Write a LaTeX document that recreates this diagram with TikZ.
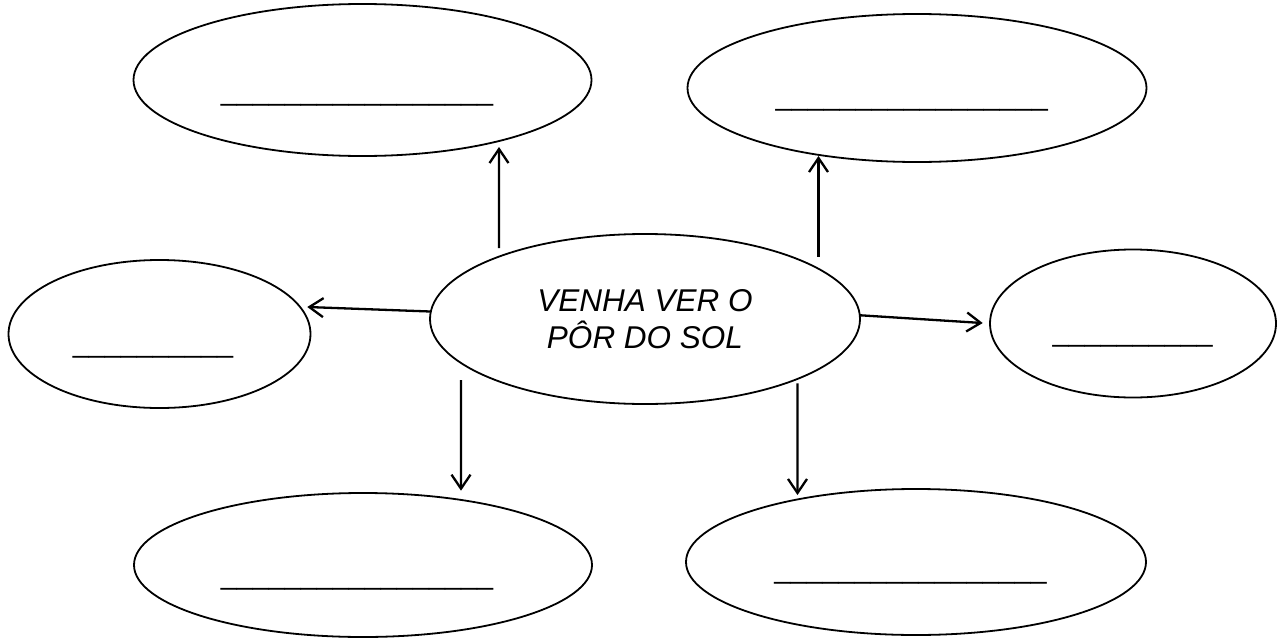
\documentclass[tikz,border=0pt]{standalone}
\usepackage{fontspec}
\setmainfont{Liberation Sans}
\usepackage{tikz}
\usetikzlibrary{arrows.meta,shapes}
\newcommand{\blank}[1]{\foreach \i in {1,...,#1}{\_}}

\begin{document}
\begin{tikzpicture}[>={Straight Barb[length=14bp,width=19bp]},
  bubble/.style={ellipse, draw, line width=1.8bp, inner sep=0pt, outer sep=0pt},
  blank/.style={anchor=base, inner sep=0pt, font=\fontsize{28.8bp}{30bp}\selectfont},
  link/.style={line width=2.3bp, ->}]
  \useasboundingbox (0bp, 0bp) rectangle (1284bp, -638bp);
  % States
  \node (sunset) at (645bp, -319bp) [bubble, minimum width=430bp, minimum height=170bp, align=center, font=\itshape\fontsize{31.5bp}{36.5bp}\selectfont] {VENHA VER O\\PÔR DO SOL};

  \node (upleft) at (362.5bp, -80bp) [bubble, minimum width=458bp, minimum height=152bp] {};
  \node (upright) at (917bp, -88bp) [bubble, minimum width=459bp, minimum height=148bp] {};
  \node (left) at (159.5bp, -334bp) [bubble, minimum width=302bp, minimum height=148bp] {};
  \node (right) at (1133bp, -323.5bp) [bubble, minimum width=286bp, minimum height=148bp] {};
  \node (downleft) at (363bp, -565bp) [bubble, minimum width=458bp, minimum height=144bp] {};
  \node (downright) at (916bp, -562bp) [bubble, minimum width=460bp, minimum height=146bp] {};

  % Blanks
  \node (upleftblank) at (357bp, -100bp) [blank] {\blank{17}};
  \node (uprightblank) at (911.7bp, -105bp) [blank] {\blank{17}};
  \node (leftblank) at (153bp, -352bp) [blank] {\blank{10}};
  \node (rightblank) at (1132.7bp, -341.7bp) [blank] {\blank{10}};
  \node (downleftblank) at (357bp, -584bp) [blank] {\blank{17}};
  \node (downrightblank) at (910.5bp, -578bp) [blank] {\blank{17}};

  % Edges
  \draw[link] ([xshift=-146bp, yshift=71bp]sunset.center) to ([xshift=136.5bp, yshift=-67bp]upleft.center);
  \draw[link] ([xshift=173.5bp, yshift=62.3bp]sunset.center) to ([xshift=-98.5bp, yshift=-68bp]upright.center);
  \draw[link, shorten >=7.4bp] (sunset.178.7) to (left.11.3);
  \draw[link, shorten >=7.3bp] (sunset.1.3) to (right.180);
  \draw[link] ([xshift=-184bp, yshift=-61bp]sunset.center) to ([xshift=98bp, yshift=74.3bp]downleft.center);
  \draw[link] ([xshift=152.5bp, yshift=-64.3bp]sunset.center) to ([xshift=-118.5bp, yshift=67bp]downright.center);
\end{tikzpicture}
\end{document}
